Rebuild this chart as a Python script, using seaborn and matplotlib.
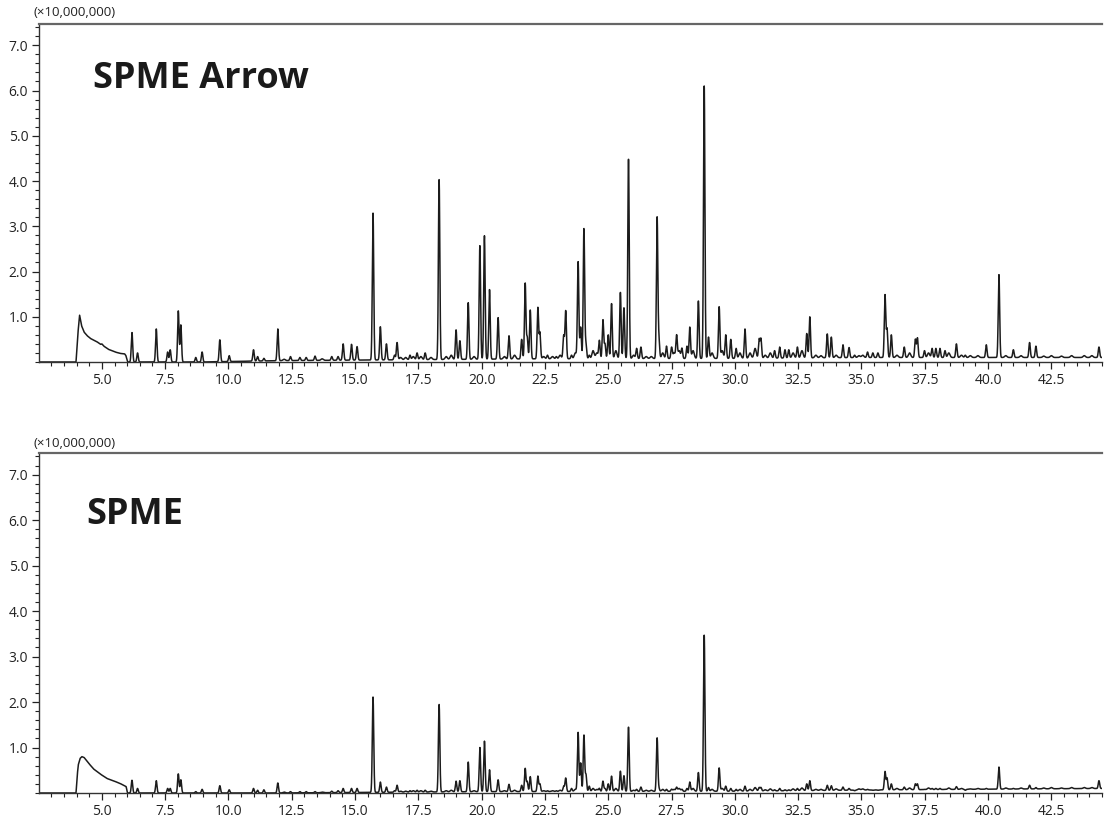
import numpy as np
import matplotlib
matplotlib.use("Agg")
import matplotlib.pyplot as plt
import seaborn as sns
from matplotlib.ticker import MultipleLocator, FixedLocator, FormatStrFormatter

# retention time (min) of each peak, and peak height (x10,000,000) for both fibres
peak_time = [6.19, 6.41, 7.15, 7.60, 7.70, 8.02, 8.12, 8.71, 8.96, 9.66,
             10.03, 10.99, 11.15, 11.40, 11.95, 12.45, 12.82, 13.07, 13.42, 14.08,
             14.33, 14.53, 14.86, 15.08, 15.71, 16.00, 16.24, 16.56, 16.66, 17.17,
             17.45, 17.77, 18.32, 18.99, 19.14, 19.47, 19.93, 20.11, 20.31, 20.65,
             21.08, 21.58, 21.72, 21.80, 21.92, 22.22, 22.30, 22.60, 22.95, 23.24,
             23.32, 23.55, 23.81, 23.91, 24.04, 24.12, 24.25, 24.65, 24.79, 24.87,
             25.00, 25.13, 25.48, 25.62, 25.80, 26.12, 26.29, 26.93, 27.00, 27.30,
             27.50, 27.70, 27.91, 28.11, 28.22, 28.56, 28.79, 28.96, 29.38, 29.64,
             29.84, 30.05, 30.40, 30.96, 31.03, 31.57, 31.77, 31.98, 32.13, 32.47,
             32.84, 32.96, 33.65, 33.81, 34.27, 34.51, 34.73, 35.24, 35.45, 35.65,
             35.93, 36.01, 36.18, 36.69, 37.13, 37.21, 37.49, 37.79, 37.94, 38.10,
             38.30, 38.75, 39.10, 39.93, 40.43, 41.00, 41.64, 41.89, 44.38]

arrow_height = [0.65, 0.20, 0.73, 0.22, 0.27, 1.13, 0.82, 0.10, 0.22, 0.49,
                0.14, 0.27, 0.12, 0.08, 0.73, 0.12, 0.10, 0.10, 0.13, 0.12,
                0.12, 0.40, 0.39, 0.34, 3.29, 0.78, 0.40, 0.15, 0.43, 0.15,
                0.20, 0.20, 4.04, 0.71, 0.47, 1.31, 2.57, 2.79, 1.60, 0.98,
                0.58, 0.50, 1.74, 0.54, 1.15, 1.20, 0.65, 0.15, 0.12, 0.58,
                1.13, 0.15, 2.21, 0.77, 2.95, 0.40, 0.15, 0.47, 0.93, 0.40,
                0.60, 1.29, 1.54, 1.20, 4.49, 0.30, 0.33, 3.19, 0.50, 0.35,
                0.32, 0.58, 0.30, 0.35, 0.77, 1.35, 6.10, 0.55, 1.22, 0.60,
                0.50, 0.30, 0.73, 0.50, 0.51, 0.25, 0.33, 0.27, 0.27, 0.33,
                0.63, 1.00, 0.62, 0.55, 0.38, 0.32, 0.15, 0.22, 0.20, 0.20,
                1.48, 0.73, 0.60, 0.33, 0.50, 0.53, 0.25, 0.30, 0.30, 0.30,
                0.25, 0.40, 0.15, 0.38, 1.93, 0.27, 0.43, 0.35, 0.33]

spme_height = [0.28, 0.10, 0.27, 0.10, 0.10, 0.42, 0.29, 0.03, 0.08, 0.16,
               0.07, 0.10, 0.06, 0.07, 0.22, 0.03, 0.03, 0.03, 0.03, 0.04,
               0.05, 0.10, 0.10, 0.10, 2.11, 0.24, 0.13, 0.05, 0.17, 0.05,
               0.06, 0.06, 1.95, 0.26, 0.27, 0.68, 1.00, 1.14, 0.51, 0.29,
               0.19, 0.17, 0.54, 0.25, 0.36, 0.37, 0.20, 0.05, 0.05, 0.15,
               0.33, 0.10, 1.33, 0.66, 1.27, 0.40, 0.15, 0.10, 0.26, 0.10,
               0.20, 0.37, 0.48, 0.38, 1.45, 0.08, 0.13, 1.21, 0.10, 0.08,
               0.08, 0.12, 0.08, 0.10, 0.24, 0.45, 3.47, 0.12, 0.55, 0.15,
               0.10, 0.08, 0.15, 0.12, 0.12, 0.07, 0.10, 0.07, 0.07, 0.10,
               0.20, 0.27, 0.17, 0.16, 0.13, 0.10, 0.05, 0.08, 0.06, 0.06,
               0.47, 0.33, 0.20, 0.13, 0.20, 0.20, 0.08, 0.10, 0.10, 0.10,
               0.08, 0.14, 0.06, 0.10, 0.57, 0.10, 0.17, 0.12, 0.27]

# small baseline bumps ("grass") between the main peaks
grass_time = [12.2, 13.7, 16.8, 17.0, 17.3, 17.6, 18.0, 18.6, 18.8, 19.7,
              20.9, 21.3, 22.45, 22.8, 23.1, 23.7, 24.4, 24.55, 25.3, 26.0,
              26.5, 26.7, 27.15, 27.6, 27.8, 28.35, 29.1, 29.5, 30.2, 30.6,
              30.8, 31.2, 31.4, 32.3, 32.65, 33.2, 33.4, 34.0, 34.9, 35.05,
              36.4, 36.9, 37.65, 38.45, 38.95, 39.3, 39.6, 40.7, 41.3, 42.2,
              42.5, 42.9, 43.3, 43.8, 44.1]
arrow_grass = [0.06, 0.07, 0.10, 0.10, 0.12, 0.12, 0.10, 0.12, 0.15, 0.12,
               0.12, 0.15, 0.12, 0.12, 0.15, 0.20, 0.25, 0.20, 0.25, 0.15,
               0.12, 0.12, 0.20, 0.20, 0.25, 0.25, 0.20, 0.25, 0.20, 0.20,
               0.30, 0.15, 0.20, 0.20, 0.25, 0.15, 0.14, 0.15, 0.14, 0.15,
               0.15, 0.20, 0.20, 0.20, 0.15, 0.14, 0.14, 0.14, 0.14, 0.13,
               0.14, 0.13, 0.14, 0.14, 0.14]
spme_grass = [0.02, 0.02, 0.04, 0.04, 0.05, 0.05, 0.04, 0.05, 0.06, 0.05,
              0.05, 0.06, 0.05, 0.05, 0.06, 0.08, 0.10, 0.08, 0.10, 0.06,
              0.06, 0.06, 0.08, 0.08, 0.10, 0.10, 0.08, 0.10, 0.08, 0.08,
              0.12, 0.07, 0.09, 0.09, 0.11, 0.08, 0.08, 0.09, 0.09, 0.09,
              0.10, 0.11, 0.11, 0.11, 0.10, 0.09, 0.10, 0.11, 0.11, 0.11,
              0.12, 0.11, 0.12, 0.12, 0.12]

# solvent front
arrow_front_t = [3.98, 4.05, 4.12, 4.20, 4.30, 4.42, 4.47, 4.55, 4.80, 4.95,
                 5.00, 5.08, 5.26, 5.53, 5.72, 5.90, 5.95, 6.02]
arrow_front_v = [0.00, 0.60, 1.04, 0.80, 0.66, 0.58, 0.56, 0.52, 0.45, 0.39,
                 0.40, 0.35, 0.28, 0.22, 0.19, 0.18, 0.14, 0.00]
spme_front_t = [3.98, 4.03, 4.07, 4.14, 4.21, 4.30, 4.47, 4.67, 4.93, 5.20,
                5.45, 5.72, 5.96, 6.01]
spme_front_v = [0.00, 0.40, 0.62, 0.76, 0.80, 0.78, 0.66, 0.53, 0.42, 0.32,
                0.27, 0.21, 0.14, 0.00]

# baseline drift
arrow_base_t = [2.5, 9.0, 12.0, 17.0, 22.0, 30.0, 35.0, 44.5]
arrow_base_v = [0.0, 0.0, 0.03, 0.05, 0.07, 0.08, 0.10, 0.10]
spme_base_t = [2.5, 12.0, 20.0, 30.0, 36.0, 44.5]
spme_base_v = [0.0, 0.0, 0.03, 0.04, 0.07, 0.10]

panels = [("SPME Arrow", arrow_height, arrow_grass, arrow_front_t, arrow_front_v, arrow_base_t, arrow_base_v),
          ("SPME", spme_height, spme_grass, spme_front_t, spme_front_v, spme_base_t, spme_base_v)]

XMIN, XMAX = 2.53, 44.5
YMAX = 7.47
SIGMA = 0.028
GRASS_SIGMA = 0.045

sns.set_theme(style="white")
plt.rcParams["font.family"] = ["Open Sans", "DejaVu Sans"]

fig = plt.figure(figsize=(11.05, 8.23), dpi=100)
W, H = 1105, 823
ax_boxes = [(39.3, 24, 1102, 362), (39.3, 453.3, 1102, 793)]
label_pos = [(33, 12, 93, 78.5), (33, 443, 86, 515)]

grid = np.arange(XMIN, XMAX, 0.004)


def peaks(t, h, sigma):
    t = np.array(t)
    h = np.array(h)
    return (h[:, None] * np.exp(-0.5 * ((grid[None, :] - t[:, None]) / sigma) ** 2)).sum(axis=0)


for (title, heights, grass, ft, fv, bt, bv), (x0, y0, x1, y1), (lx, ly, tx, ty) in zip(panels, ax_boxes, label_pos):
    ax = fig.add_axes([x0 / W, 1 - y1 / H, (x1 - x0) / W, (y1 - y0) / H])
    h = np.array(heights) - np.interp(peak_time, bt, bv)
    g = np.clip(np.array(grass) - np.interp(grass_time, bt, bv), 0, None)
    trace = peaks(peak_time, h, SIGMA) + peaks(grass_time, g, GRASS_SIGMA)
    trace = trace + np.interp(grid, bt, bv)
    trace = trace + np.interp(grid, ft, fv, left=0, right=0)

    sns.lineplot(x=grid, y=trace, ax=ax, color="#1c1c1c", lw=1.1,
                 estimator=None, sort=False)

    ax.set_xlim(XMIN, XMAX)
    ax.set_ylim(0, YMAX)
    ax.xaxis.set_major_locator(FixedLocator(np.arange(5.0, 43.0, 2.5)))
    ax.xaxis.set_minor_locator(MultipleLocator(0.5))
    ax.xaxis.set_major_formatter(FormatStrFormatter("%.1f"))
    ax.yaxis.set_major_locator(FixedLocator(np.arange(1.0, 7.5, 1.0)))
    ax.yaxis.set_minor_locator(MultipleLocator(0.2))
    ax.yaxis.set_major_formatter(FormatStrFormatter("%.1f"))
    ax.tick_params(which="major", direction="out", length=5, width=0.9,
                   color="#222222", labelsize=10, labelcolor="#222222", pad=3)
    ax.tick_params(which="minor", direction="out", length=3, width=0.8, color="#222222")
    ax.tick_params(axis="x", which="both", bottom=True)
    ax.tick_params(axis="y", which="both", left=True)
    ax.set_xlabel("")
    ax.set_ylabel("")
    for side in ["left", "bottom", "top"]:
        ax.spines[side].set_visible(True)
        ax.spines[side].set_color("#333333")
        ax.spines[side].set_linewidth(1.0)
    ax.spines["top"].set_color("#666666")
    ax.spines["top"].set_linewidth(1.6)
    ax.spines["right"].set_visible(False)

    fig.text(lx / W, 1 - ly / H, "(\u00d710,000,000)", fontsize=9.5,
             color="#222222", ha="left", va="center")
    fig.text(tx / W, 1 - ty / H, title, fontsize=26, fontweight="bold",
             color="#1a1a1a", ha="left", va="center")

fig.savefig("out.png", dpi=100)
